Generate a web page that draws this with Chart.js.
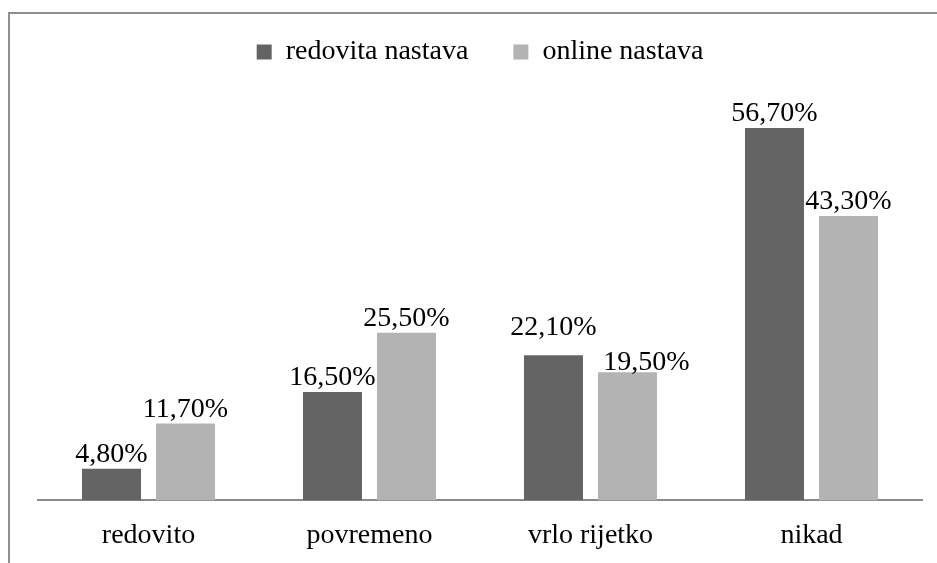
<!DOCTYPE html>
<html>
<head>
<meta charset="utf-8">
<script src="https://cdn.jsdelivr.net/npm/chart.js@4/dist/chart.umd.min.js"></script>
<style>
  html, body { margin: 0; padding: 0; background: #fff; overflow: hidden; }
  body { width: 937px; height: 563px; position: relative; }
  #frame { position: absolute; left: 8px; top: 12px; width: 1000px; height: 600px;
           border-left: 2px solid #8f8f8f; border-top: 2px solid #8f8f8f; box-sizing: border-box; }
  #wrap { position: absolute; left: 0; top: -7px; width: 937px; height: 587px; }
</style>
</head>
<body>
<div id="frame"></div>
<div id="wrap"><canvas id="c"></canvas></div>
<script>
const categories = ['redovito', 'povremeno', 'vrlo rijetko', 'nikad'];
const seriesNames = ['redovita nastava', 'online nastava'];
const redovitaValues = [4.8, 16.5, 22.1, 56.7];
const onlineValues = [11.7, 25.5, 19.5, 43.3];
const seriesColors = ['#646464', '#b3b3b3'];

const FONT = "'Liberation Serif', 'Times New Roman', serif";

const fmt = v => v.toFixed(2).replace('.', ',') + '%';

// Label nudges (pixels) where the reference moved individual labels
const labelNudge = { '0-2': { dx: 0, dy: -13 }, '1-2': { dx: 19, dy: 5 } };

const valueLabels = {
  id: 'valueLabels',
  afterDatasetsDraw(chart) {
    const ctx = chart.ctx;
    ctx.save();
    ctx.font = '28px ' + FONT;
    ctx.fillStyle = '#000';
    ctx.textAlign = 'center';
    ctx.textBaseline = 'alphabetic';
    chart.data.datasets.forEach((ds, di) => {
      const meta = chart.getDatasetMeta(di);
      meta.data.forEach((bar, i) => {
        const n = labelNudge[di + '-' + i] || { dx: 0, dy: 0 };
        ctx.fillText(fmt(ds.data[i]), bar.x + n.dx, bar.y - 7 + n.dy);
      });
    });
    ctx.restore();
  }
};

new Chart(document.getElementById('c'), {
  type: 'bar',
  data: {
    labels: categories,
    datasets: [
      { label: seriesNames[0], data: redovitaValues, backgroundColor: seriesColors[0],
        barPercentage: 0.797, categoryPercentage: 0.67 },
      { label: seriesNames[1], data: onlineValues, backgroundColor: seriesColors[1],
        barPercentage: 0.797, categoryPercentage: 0.67 }
    ]
  },
  options: {
    responsive: true,
    maintainAspectRatio: false,
    animation: false,
    layout: { padding: { left: 38, right: 15, top: 0, bottom: 10 } },
    plugins: {
      legend: {
        position: 'top',
        labels: {
          font: { family: FONT, size: 28 },
          color: '#000',
          boxWidth: 15,
          boxHeight: 15,
          padding: 45
        }
      },
      tooltip: { enabled: false }
    },
    scales: {
      x: {
        grid: { display: false, drawTicks: false },
        border: { display: true, color: '#8a8a8a', width: 2 },
        ticks: { font: { family: FONT, size: 28 }, color: '#000', padding: 18 }
      },
      y: {
        display: false,
        min: 0,
        max: 64.6
      }
    }
  },
  plugins: [valueLabels]
});
</script>
</body>
</html>
